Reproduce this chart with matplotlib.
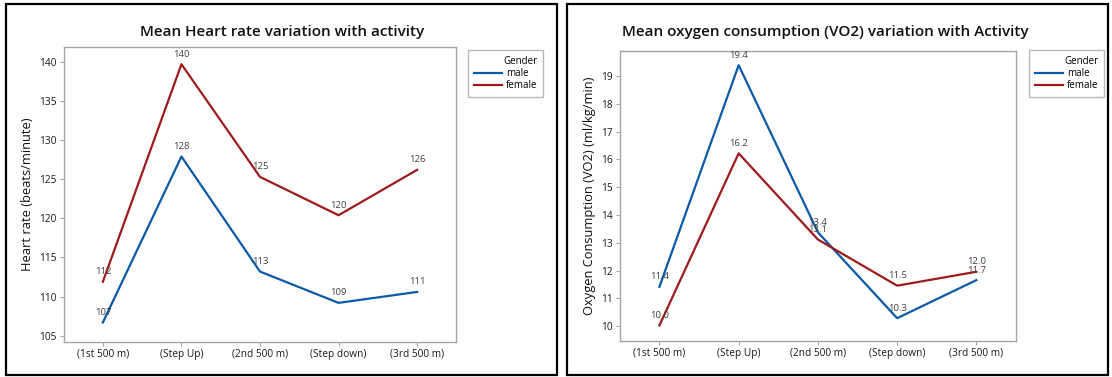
import matplotlib.pyplot as plt
from matplotlib.patches import Rectangle

plt.rcParams['font.family'] = ['Open Sans', 'DejaVu Sans']

# data
activities = ['(1st 500 m)', '(Step Up)', '(2nd 500 m)', '(Step down)', '(3rd 500 m)']
hr_male = [106.7, 127.9, 113.2, 109.2, 110.6]
hr_female = [111.9, 139.7, 125.3, 120.4, 126.2]
vo2_male = [11.42, 19.39, 13.38, 10.29, 11.66]
vo2_female = [10.03, 16.22, 13.12, 11.46, 11.96]
hr_ticks = [105, 110, 115, 120, 125, 130, 135, 140]
vo2_ticks = [10, 11, 12, 13, 14, 15, 16, 17, 18, 19]

W, H = 1112, 377
BLUE = '#0a5aa8'
RED = '#9e1a1c'
GRAY = '#a6a6a6'

fig = plt.figure(figsize=(W / 100, H / 100), dpi=100)


def px(x0, y0, x1, y1):
    # pixel box -> figure fraction [left, bottom, width, height]
    return [x0 / W, 1 - y1 / H, (x1 - x0) / W, (y1 - y0) / H]


def panel(box, title, title_x, ylabel, male, female, ticks, ylim, fmt, legend_x):
    ax = fig.add_axes(px(*box))
    xs = range(len(activities))
    ax.plot(xs, male, color=BLUE, lw=1.6, label='male')
    ax.plot(xs, female, color=RED, lw=1.6, label='female')
    for ser in (male, female):
        for i, v in enumerate(ser):
            ax.annotate(fmt.format(v), (i, v), xytext=(0, 4), textcoords='offset points',
                        ha='center', va='bottom', fontsize=6.8, color='#404040')
    ax.set_xlim(-0.5, 4.5)
    ax.set_ylim(*ylim)
    ax.set_xticks(list(xs))
    ax.set_xticklabels(activities)
    ax.set_yticks(ticks)
    for s in ax.spines.values():
        s.set_color(GRAY)
        s.set_linewidth(1.0)
    ax.tick_params(axis='both', direction='out', length=3, width=0.8, color=GRAY,
                   labelsize=7.3, labelcolor='#1a1a1a', pad=2)
    ax.set_ylabel(ylabel, fontsize=9.3, color='#111111', labelpad=4)
    fig.text(title_x / W, 1 - 32 / H, title, ha='center', va='center',
             fontsize=11, fontweight='semibold', color='#111111')
    leg = ax.legend(loc='upper left', bbox_to_anchor=(legend_x / W, 1 - 50 / H),
                    bbox_transform=fig.transFigure, title='Gender', fontsize=7.0,
                    title_fontsize=7.0, frameon=True, fancybox=False, borderpad=0.6,
                    handlelength=2.9, handletextpad=0.4, labelspacing=0.12,
                    alignment='right', borderaxespad=0)
    leg.get_frame().set_edgecolor(GRAY)
    leg.get_frame().set_linewidth(1.0)
    return ax


panel((63.6, 47, 456.4, 342), 'Mean Heart rate variation with activity', 282,
      'Heart rate (beats/minute)', hr_male, hr_female, hr_ticks, (104.2, 141.9),
      '{:.0f}', 468)
panel((619.8, 51, 1016, 341), 'Mean oxygen consumption (VO2) variation with Activity', 825,
      'Oxygen Consumption (VO2) (ml/kg/min)', vo2_male, vo2_female, vo2_ticks, (9.47, 19.9),
      '{:.1f}', 1029)

# panel borders
for x0, x1 in [(6, 557), (567, 1108)]:
    fig.patches.append(Rectangle((x0 / W, 1 - 375 / H), (x1 - x0) / W, (375 - 4) / H,
                                 transform=fig.transFigure, fill=False,
                                 edgecolor='black', linewidth=1.6))

fig.savefig('out.png', dpi=100)
